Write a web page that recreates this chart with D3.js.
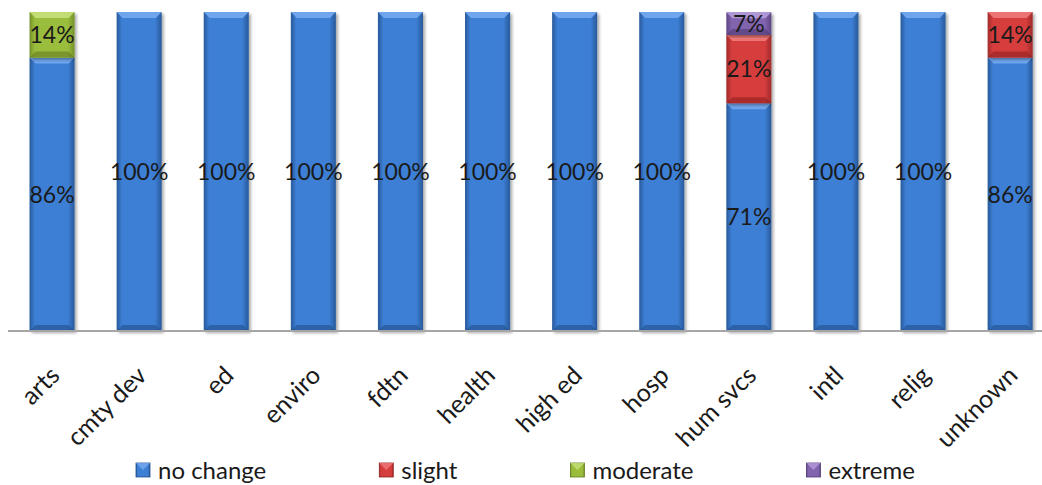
<!DOCTYPE html>
<html><head><meta charset="utf-8">
<script src="https://cdn.jsdelivr.net/npm/d3@7"></script>
<style>
html,body{margin:0;padding:0;background:#fff;}
svg{display:block;}
text{font-family:Lato,"Open Sans",sans-serif;}
</style></head>
<body>
<svg id="chart" width="1042" height="485"></svg>
<script>
const categories = ["arts","cmty dev","ed","enviro","fdtn","health","high ed","hosp","hum svcs","intl","relig","unknown"];
const seriesNames = ["no change","slight","moderate","extreme"];
const noChange = [85.7,100,100,100,100,100,100,100,71.4,100,100,85.7];
const slight   = [0,0,0,0,0,0,0,0,21.4,0,0,14.3];
const moderate = [14.3,0,0,0,0,0,0,0,0,0,0,0];
const extreme  = [0,0,0,0,0,0,0,0,7.1,0,0,0];
const seriesValues = [noChange, slight, moderate, extreme];
const colors = [
  {mid:"#3d7fd5", edge:"#28599a", light:"#74aaf0", dark:"#22508a"},
  {mid:"#d63e3e", edge:"#a02a2a", light:"#f07a7a", dark:"#8f2222"},
  {mid:"#9bbd3c", edge:"#74902a", light:"#c6e07a", dark:"#627a20"},
  {mid:"#8264ae", edge:"#5d4584", light:"#b49bdb", dark:"#4f3a72"}
];

const svg = d3.select("#chart");
const defs = svg.append("defs");
colors.forEach((c,i)=>{
  const g = defs.append("linearGradient").attr("id","g"+i).attr("x1","0").attr("x2","1").attr("y1","0").attr("y2","0");
  g.append("stop").attr("offset","0").attr("stop-color",c.edge);
  g.append("stop").attr("offset","0.12").attr("stop-color",c.mid);
  g.append("stop").attr("offset","0.85").attr("stop-color",c.mid);
  g.append("stop").attr("offset","1").attr("stop-color",c.edge);
});
const f = defs.append("filter").attr("id","shadow").attr("x","-20%").attr("y","-5%").attr("width","140%").attr("height","115%");
f.append("feDropShadow").attr("dx",2).attr("dy",2).attr("stdDeviation",1.5).attr("flood-color","#000").attr("flood-opacity",0.35);

const x = d3.scaleBand().domain(categories).range([8.5, 1053.7]).paddingInner(0.483).paddingOuter(0.2415);
const y = d3.scaleLinear().domain([0,100]).range([331, 12]);

const stackData = categories.map((c,i)=>{
  const o = {cat:c};
  seriesNames.forEach((s,j)=>o[s]=seriesValues[j][i]);
  return o;
});
const stack = d3.stack().keys(seriesNames)(stackData);

const bw = x.bandwidth();
const bev = 6;
stack.forEach((layer,j)=>{
  const g = svg.append("g");
  layer.forEach(d=>{
    if (d[1]-d[0] <= 0) return;
    const x0 = x(d.data.cat), y0 = y(d[1]), y1 = y(d[0]);
    const h = y1 - y0;
    const b = Math.min(bev, h/2);
    g.append("rect").attr("x",x0).attr("y",y0).attr("width",bw).attr("height",h)
      .attr("fill","url(#g"+j+")").attr("filter","url(#shadow)");
    g.append("path").attr("d",`M${x0},${y0}L${x0+bw},${y0}L${x0+bw-b},${y0+b}L${x0+b},${y0+b}Z`)
      .attr("fill",colors[j].light).attr("opacity",0.9);
    g.append("path").attr("d",`M${x0},${y1}L${x0+bw},${y1}L${x0+bw-b},${y1-b}L${x0+b},${y1-b}Z`)
      .attr("fill",colors[j].dark).attr("opacity",0.6);
    const v = d[1]-d[0];
    g.append("text").attr("x",x0+bw/2).attr("y",(y0+y1)/2).attr("dy","0.36em")
      .attr("text-anchor","middle").attr("font-size",23).attr("fill","#1a1a1a")
      .text(Math.round(v)+"%");
  });
});

// axis
const xAxis = d3.axisBottom(x).tickSize(0).tickPadding(0);
const ax = svg.append("g").attr("transform","translate(0,331)").call(xAxis);
ax.select(".domain").attr("stroke","#a6a6a6").attr("stroke-width",2).attr("d","M8,0H1042");
ax.selectAll(".tick text")
  .attr("font-size",25).attr("fill","#1a1a1a").attr("text-anchor","end")
  .attr("y",0).attr("dy",0)
  .attr("transform","translate(9,46) rotate(-45)");

// legend
const leg = svg.append("g");
let lx = 136;
seriesNames.forEach((s,j)=>{
  const it = leg.append("g").attr("transform",`translate(${lx},0)`);
  it.append("rect").attr("x",0).attr("y",463).attr("width",14).attr("height",14).attr("fill","url(#g"+j+")").attr("stroke",colors[j].dark).attr("stroke-width",0.8);
  it.append("path").attr("d","M0,463L14,463L7,470Z").attr("fill",colors[j].light).attr("opacity",0.8);
  const t = it.append("text").attr("x",22).attr("y",470).attr("dy","0.36em").attr("font-size",24).attr("fill","#1a1a1a").text(s);
  const w = t.node().getComputedTextLength();
  lx += 22 + w + 113;
});
</script>
</body></html>
